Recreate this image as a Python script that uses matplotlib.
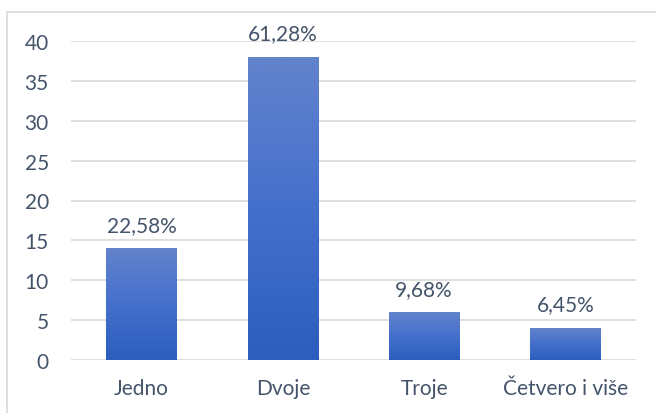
import matplotlib
matplotlib.use("Agg")
import matplotlib.pyplot as plt
import numpy as np
from matplotlib.colors import LinearSegmentedColormap
from matplotlib.patches import Rectangle

categories = ["Jedno", "Dvoje", "Troje", "Četvero i više"]
values = [14, 38, 6, 4]
labels = ["22,58%", "61,28%", "9,68%", "6,45%"]
yticks = [0, 5, 10, 15, 20, 25, 30, 35, 40]

plt.rcParams['font.family'] = ['Lato', 'DejaVu Sans']
text_color = "#44546a"

fig = plt.figure(figsize=(6.56, 4.14), dpi=100)
fig.patch.set_facecolor("white")
# outer border
fig.add_artist(Rectangle((7/656, -0.01), 1.0, 1 - 12.5/414 + 0.01,
                         transform=fig.transFigure, fill=False,
                         edgecolor="#d9d9d9", linewidth=1.2))

ax = fig.add_axes([71/656, 1 - 361/414, (636 - 71)/656, (361 - 42)/414])
x = np.arange(len(categories))
bars = ax.bar(x, values, width=0.5, color="none", zorder=3)

cmap = LinearSegmentedColormap.from_list("g", ["#2d5dbd", "#4470cc", "#6383cc"])
grad = np.linspace(0, 1, 256).reshape(-1, 1)
for b in bars:
    x0, y0 = b.get_x(), b.get_y()
    w, h = b.get_width(), b.get_height()
    im = ax.imshow(grad, cmap=cmap, aspect="auto", origin="lower",
                   extent=[x0, x0 + w, y0, y0 + h], zorder=3)
    im.set_clip_path(b)

for xi, v, lab in zip(x, values, labels):
    ax.text(xi, v + 2.2, lab, ha="center", va="baseline", fontsize=15, color=text_color)

ax.set_xlim(-0.5, len(categories) - 0.5)
ax.set_ylim(0, 40)
ax.set_yticks(yticks)
ax.set_xticks(x)
ax.set_xticklabels(categories)
ax.tick_params(axis="both", length=0, labelsize=15, colors=text_color)
ax.tick_params(axis="x", pad=13)
ax.tick_params(axis="y", pad=16)
for lbl in ax.get_yticklabels():
    lbl.set_horizontalalignment("right")
ax.grid(axis="y", color="#d9d9d9", linewidth=1.2, zorder=0)
ax.set_axisbelow(True)
for s in ax.spines.values():
    s.set_visible(False)

fig.savefig("out.png", dpi=100, facecolor="white")
